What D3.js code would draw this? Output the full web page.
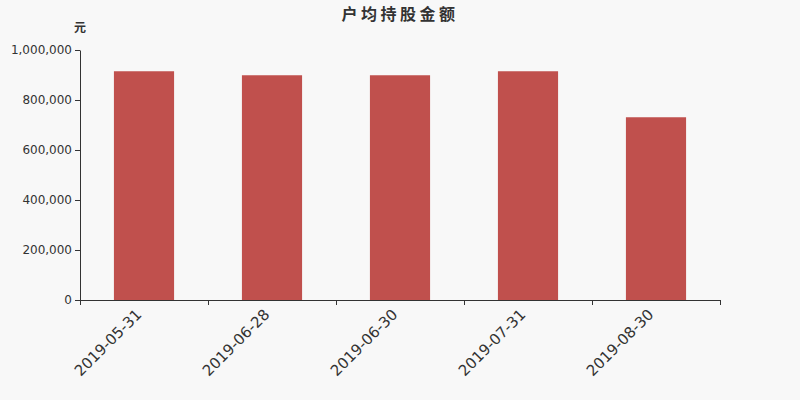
<!DOCTYPE html>
<html>
<head>
<meta charset="utf-8">
<script src="https://cdn.jsdelivr.net/npm/d3@7"></script>
<style>
  body { margin: 0; background: #f8f8f8; }
  text { font-family: "DejaVu Sans", "Noto Sans CJK SC", sans-serif; }
</style>
</head>
<body>
<div id="chart"></div>
<script>
// data
var categories = ["2019-05-31", "2019-06-28", "2019-06-30", "2019-07-31", "2019-08-30"];
var values = [915000, 899000, 899000, 915000, 731000];
var yTicks = [0, 200000, 400000, 600000, 800000, 1000000];

var margin = {top: 50, right: 80, bottom: 100, left: 80},
    width = 800 - margin.left - margin.right,
    height = 400 - margin.top - margin.bottom;

var root = d3.select("#chart")
  .append("svg")
    .attr("width", 800)
    .attr("height", 400)
    .style("background", "#f8f8f8");

// title
root.append("text")
  .attr("x", 400)
  .attr("y", 20)
  .attr("text-anchor", "middle")
  .style("font-size", "16px")
  .style("font-weight", "bold")
  .style("letter-spacing", "3.5px")
  .style("fill", "#333")
  .text("户均持股金额");

var svg = root.append("g")
  .attr("transform", "translate(" + margin.left + "," + margin.top + ")");

var x = d3.scaleBand()
  .domain(categories)
  .range([0, width])
  .paddingInner(0.53)
  .paddingOuter(0.265);

var xAxisScale = d3.scaleLinear().domain([0, categories.length]).range([0, width]);

var y = d3.scaleLinear()
  .domain([0, 1000000])
  .range([height, 0]);

// y axis
var yAxis = svg.append("g")
  .call(d3.axisLeft(y).tickValues(yTicks).tickSize(5).tickSizeOuter(0).tickFormat(d3.format(",")));
yAxis.selectAll("text").style("font-size", "12px").style("fill", "#333").attr("x", -8);
yAxis.selectAll("line, path").attr("stroke", "#333");

// unit label
svg.append("text")
  .attr("x", 0)
  .attr("y", -18)
  .attr("text-anchor", "middle")
  .style("font-size", "12px")
  .style("font-weight", "bold")
  .style("fill", "#333")
  .text("元");

// bars
svg.selectAll("rect.bar")
  .data(values)
  .enter().append("rect")
    .attr("class", "bar")
    .attr("x", function(d, i) { return x(categories[i]); })
    .attr("y", function(d) { return y(d); })
    .attr("width", x.bandwidth())
    .attr("height", function(d) { return height - y(d); })
    .attr("fill", "#c0504d");

// x axis: ticks on band boundaries
var xAxis = svg.append("g")
  .attr("transform", "translate(0," + height + ")")
  .call(d3.axisBottom(xAxisScale).tickValues(d3.range(categories.length + 1)).tickSize(5).tickSizeOuter(0).tickFormat(""));
xAxis.selectAll("line, path").attr("stroke", "#333");

// x labels
svg.append("g")
  .selectAll("text")
  .data(categories)
  .enter().append("text")
    .attr("transform", function(d) {
      return "translate(" + (x(d) + x.bandwidth() / 2 - 9) + "," + (height + 8) + ") rotate(-45)";
    })
    .attr("text-anchor", "end")
    .attr("dy", "0.7em")
    .style("font-size", "15px")
    .style("fill", "#333")
    .text(function(d) { return d; });
</script>
</body>
</html>
